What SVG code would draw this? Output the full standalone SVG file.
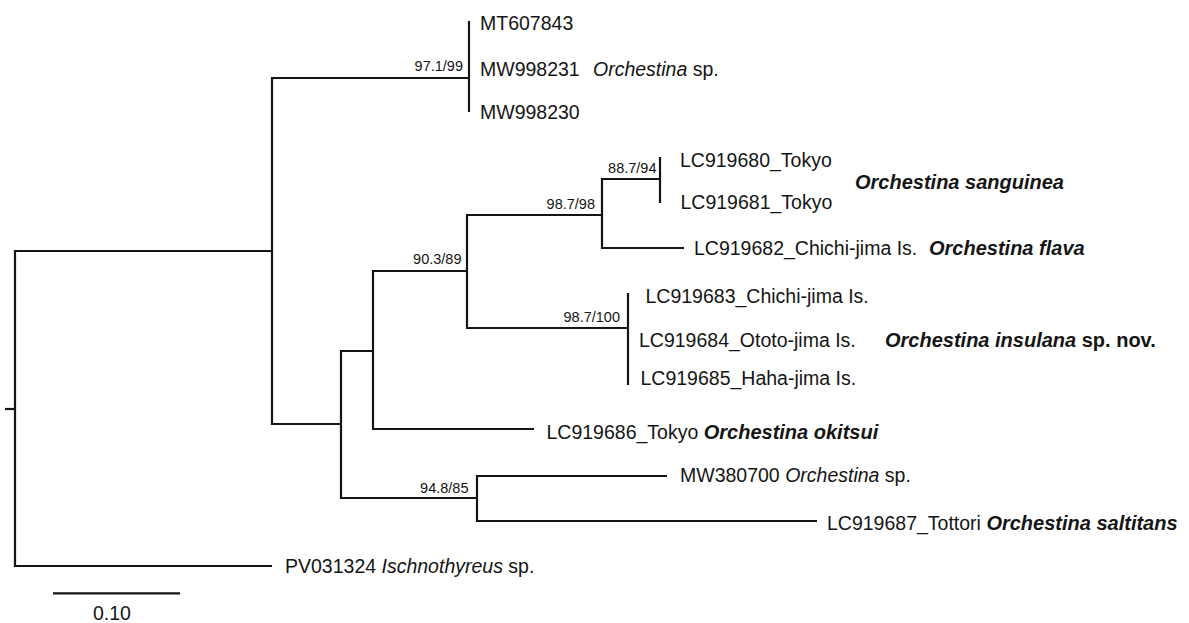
<svg xmlns="http://www.w3.org/2000/svg" width="1189" height="623" viewBox="0 0 1189 623">
<style>
.e{fill:none;stroke:#151515;stroke-width:2.2;stroke-linejoin:miter;stroke-linecap:butt}
text{font-family:"Liberation Sans",Arial,sans-serif;fill:#151515}
.t{font-size:19.5px}
.s{font-size:14.5px;text-anchor:end}
.i{font-style:italic}
.bi{font-style:italic;font-weight:bold;font-size:20px}
.b{font-weight:bold}
</style>
<rect width="1189" height="623" fill="#fff"/>
<g id="connectors">
<path class="e" d="M5 409H15"/>
<path class="e" d="M272 251H15V566H272"/>
<path class="e" d="M469 78H272V424H341"/>
<path class="e" d="M469 21V112"/>
<path class="e" d="M373 351H341V498H477"/>
<path class="e" d="M467 271H373V429H534"/>
<path class="e" d="M602 215H467V328H628"/>
<path class="e" d="M660 179H602V248H684"/>
<path class="e" d="M660 157V203"/>
<path class="e" d="M628 293V385"/>
<path class="e" d="M667 476H477V521H817"/>
</g>
<g id="scalebar">
<path class="e" d="M53 593.3H180"/>
<text class="t" x="112" y="620" text-anchor="middle">0.10</text>
</g>
<g id="node-97">
<text class="s" x="463" y="71">97.1/99</text>
</g>
<g id="node-88">
<text class="s" x="656.5" y="172.5">88.7/94</text>
</g>
<g id="node-98a">
<text class="s" x="595" y="209">98.7/98</text>
</g>
<g id="node-90">
<text class="s" x="461.5" y="264">90.3/89</text>
</g>
<g id="node-98b">
<text class="s" x="620" y="321.5">98.7/100</text>
</g>
<g id="node-94">
<text class="s" x="468.5" y="492.5">94.8/85</text>
</g>
<g id="tip-MT607843"><text class="t" x="480" y="29.5">MT607843</text></g>
<g id="tip-MW998231"><text class="t" x="480" y="75.5">MW998231</text><text class="t i" x="593" y="75.5">Orchestina<tspan font-style="normal"> sp.</tspan></text></g>
<g id="tip-MW998230"><text class="t" x="480" y="118.5">MW998230</text></g>
<g id="tip-LC919680"><text class="t" x="680" y="167">LC919680_Tokyo</text></g>
<g id="tip-LC919681"><text class="t" x="680.5" y="208.5">LC919681_Tokyo</text></g>
<g id="label-sanguinea"><text class="t bi" x="855" y="188.5">Orchestina sanguinea</text></g>
<g id="tip-LC919682"><text class="t" x="694" y="255">LC919682_Chichi-jima Is.</text><text class="t bi" x="929" y="255">Orchestina flava</text></g>
<g id="tip-LC919683"><text class="t" x="645.5" y="303">LC919683_Chichi-jima Is.</text></g>
<g id="tip-LC919684"><text class="t" x="639" y="346.5">LC919684_Ototo-jima Is.</text></g>
<g id="label-insulana"><text class="t bi" x="885" y="346.5">Orchestina insulana<tspan font-style="normal"> sp. nov.</tspan></text></g>
<g id="tip-LC919685"><text class="t" x="640.5" y="385">LC919685_Haha-jima Is.</text></g>
<g id="tip-LC919686"><text class="t" x="546.5" y="438.5">LC919686_Tokyo <tspan class="bi">Orchestina okitsui</tspan></text></g>
<g id="tip-MW380700"><text class="t" x="680" y="482">MW380700 <tspan class="i">Orchestina</tspan> sp.</text></g>
<g id="tip-LC919687"><text class="t" x="827" y="529.5">LC919687_Tottori <tspan class="bi">Orchestina saltitans</tspan></text></g>
<g id="tip-PV031324"><text class="t" x="285" y="573">PV031324 <tspan class="i">Ischnothyreus</tspan> sp.</text></g>
</svg>
